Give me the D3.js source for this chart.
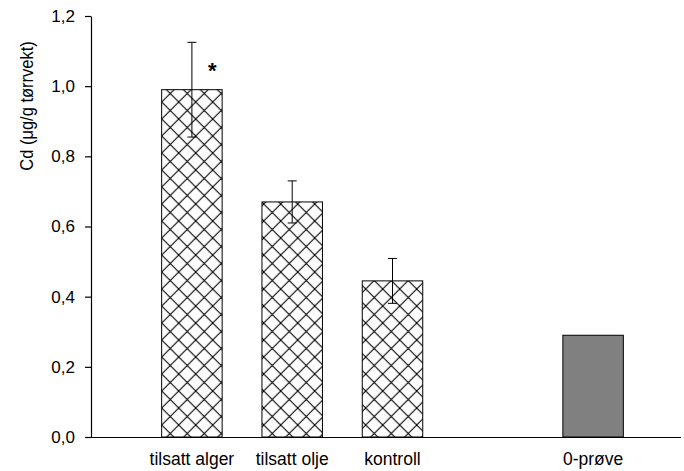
<!DOCTYPE html>
<html><head><meta charset="utf-8">
<script src="https://cdn.jsdelivr.net/npm/d3@7"></script>
<style>body{margin:0;background:#fff}svg{display:block}text{font-family:"Liberation Sans",Arial,sans-serif;fill:#000}</style>
</head><body>
<svg id="c" width="684" height="471"></svg>
<script>
const categories = ["tilsatt alger", "tilsatt olje", "kontroll", "0-prøve"];
const values = [0.99, 0.67, 0.445, 0.29];
const errors = [0.135, 0.06, 0.064, null];
const hatched = [true, true, true, false];
const significant = [true, false, false, false];
const yTicks = [0, 0.2, 0.4, 0.6, 0.8, 1.0, 1.2];
const yTitle = "Cd (μg/g tørrvekt)";

const svg = d3.select("#c");
const W = 684, H = 471;
const x0 = 91, yTop = 16, yBot = 437;

const y = d3.scaleLinear().domain([0, 1.2]).range([yBot, yTop]);
const slots = ["_p0", categories[0], categories[1], categories[2], "_p1", categories[3]];
const x = d3.scaleBand().domain(slots).range([41.45, 643.25]).paddingInner(0.397).paddingOuter(0.1985);

const defs = svg.append("defs");
const pat = defs.append("pattern").attr("id", "hatch").attr("patternUnits", "userSpaceOnUse")
  .attr("width", 17).attr("height", 17).attr("x", 161.7).attr("y", 0);
pat.append("rect").attr("width", 17).attr("height", 17).attr("fill", "#fff");
pat.append("path").attr("d", "M0,0L17,17M0,17L17,0M-1,1L1,-1M16,18L18,16M-1,16L1,18M16,-1L18,1")
  .attr("stroke", "#000").attr("stroke-width", 1.1);

// bars
const data = categories.map((c, i) => ({c, v: values[i], e: errors[i], h: hatched[i], s: significant[i]}));
const bw = x.bandwidth();
svg.selectAll("rect.bar").data(data).enter().append("rect").attr("class", "bar")
  .attr("x", d => x(d.c)).attr("y", d => y(d.v))
  .attr("width", bw).attr("height", d => y(0) - y(d.v))
  .attr("fill", d => d.h ? "url(#hatch)" : "#808080")
  .attr("stroke", "#000").attr("stroke-width", 1);

// error bars
const eb = data.filter(d => d.e != null);
const cx = d => x(d.c) + bw / 2;
svg.selectAll("line.ev").data(eb).enter().append("line")
  .attr("x1", cx).attr("x2", cx)
  .attr("y1", d => y(d.v + d.e)).attr("y2", d => y(d.v - d.e))
  .attr("stroke", "#000").attr("stroke-width", 1);
["+", "-"].forEach(sg => {
  svg.selectAll("line.cap" + (sg === "+" ? "u" : "d")).data(eb).enter().append("line")
    .attr("x1", d => cx(d) - 4.5).attr("x2", d => cx(d) + 4.5)
    .attr("y1", d => y(sg === "+" ? d.v + d.e : d.v - d.e))
    .attr("y2", d => y(sg === "+" ? d.v + d.e : d.v - d.e))
    .attr("stroke", "#000").attr("stroke-width", 1);
});

// significance marker
svg.selectAll("text.sig").data(data.filter(d => d.s)).enter().append("text")
  .attr("x", d => cx(d) + 20.5).attr("y", d => y(d.v + d.e) + 35.5)
  .attr("text-anchor", "middle").attr("font-size", 22).attr("font-weight", "bold").text("*");

// y axis
const yAxis = d3.axisLeft(y).tickValues(yTicks).tickSize(6).tickSizeOuter(0).tickPadding(10)
  .tickFormat(d => d3.format(".1f")(d).replace(".", ","));
const ga = svg.append("g").attr("transform", `translate(${x0},0)`).call(yAxis);
ga.select(".domain").attr("stroke", "#000").attr("stroke-width", 1.2);
ga.selectAll(".tick line").attr("stroke", "#000").attr("stroke-width", 1.2);
ga.selectAll(".tick text").attr("font-size", 17).attr("font-family", "Liberation Sans, Arial, sans-serif").attr("fill", "#000");

// x axis line
svg.append("line").attr("x1", x0).attr("x2", W - 3).attr("y1", yBot + 0.5).attr("y2", yBot + 0.5)
  .attr("stroke", "#000").attr("stroke-width", 1.2);

// x labels
svg.selectAll("text.xl").data(categories).enter().append("text")
  .attr("x", d => x(d) + bw / 2).attr("y", 465).attr("text-anchor", "middle")
  .attr("font-size", 17.5).text(d => d);

// y title
svg.append("text").attr("transform", "translate(33,106) rotate(-90) scale(1,1.15)")
  .attr("text-anchor", "middle").attr("font-size", 16.5).text(yTitle);
</script>
</body></html>
